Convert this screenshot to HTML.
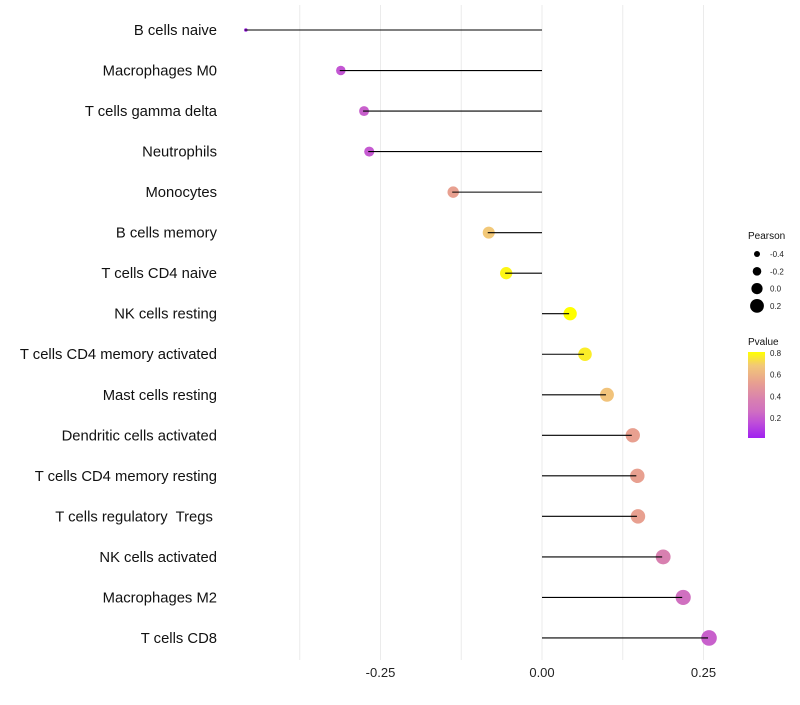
<!DOCTYPE html>
<html><head><meta charset="utf-8"><style>
body{margin:0;background:#fff;font-family:"Liberation Sans",sans-serif;}
</style></head><body>
<svg id="chart" width="800" height="700" xmlns="http://www.w3.org/2000/svg" font-family="Liberation Sans, sans-serif">
<g id="grid"></g><g id="marks"></g><g id="labels"></g><g id="legend"></g>
</svg>
<script>
const categories = ["B cells naive","Macrophages M0","T cells gamma delta","Neutrophils","Monocytes","B cells memory","T cells CD4 naive","NK cells resting","T cells CD4 memory activated","Mast cells resting","Dendritic cells activated","T cells CD4 memory resting","T cells regulatory\u00a0 Tregs\u00a0","NK cells activated","Macrophages M2","T cells CD8"];
const pearson = [-0.46,-0.313,-0.277,-0.269,-0.139,-0.084,-0.057,0.042,0.065,0.099,0.139,0.146,0.147,0.186,0.217,0.257];
const pvalues = [0.08,0.22,0.25,0.23,0.55,0.7,0.8,0.82,0.78,0.68,0.55,0.55,0.55,0.4,0.3,0.25];
const xTicks = [-0.25,0,0.25];
const xTickLabels = ["-0.25","0.00","0.25"];
const minorTicks = [-0.375,-0.125,0.125];
const sizeLegend = [-0.4,-0.2,0.0,0.2];
const sizeLegendLabels = ["-0.4","-0.2","0.0","0.2"];
const colorLegend = [0.2,0.4,0.6,0.8];

const NS="http://www.w3.org/2000/svg";
const x = v => 542 + v*646;
const y = i => 30 + i*40.53;
const r = v => v < -0.31 ? Math.max(1.5, 1.8 + (v+0.46)*20) : 4.8 + 5.3*(v+0.31);
const lr = v => 3 + (v+0.4)*6.5;
const pToY = p => 353 + (0.8-p)*108.5;
const stops=[[0.06,[160,32,240]],[0.2,[192,80,216]],[0.3,[208,112,192]],[0.4,[216,128,176]],[0.55,[232,160,144]],[0.7,[242,200,120]],[0.82,[255,255,0]]];
function col(p){
  p=Math.max(0.06,Math.min(0.82,p));
  for(let i=1;i<stops.length;i++){
    if(p<=stops[i][0]){const [p0,a]=stops[i-1],[p1,b]=stops[i];const t=(p-p0)/(p1-p0);
      return `rgb(${a.map((c,j)=>Math.round(c+(b[j]-c)*t)).join(',')})`;}
  }
  return 'rgb(255,255,0)';
}
function mk(tag,attrs,parent,text){const e=document.createElementNS(NS,tag);for(const k in attrs)e.setAttribute(k,attrs[k]);if(text!==undefined)e.textContent=text;document.getElementById(parent).appendChild(e);return e;}

[...minorTicks,...xTicks].forEach(v=>{
  const l=mk('line',{x1:x(v),x2:x(v),y1:5,y2:660,stroke:'#ebebeb','stroke-width':1},'grid');
  
  
});
xTicks.forEach((v,i)=>{
  const t=mk('text',{x:x(v),y:677,'text-anchor':'middle','font-size':13,fill:'#222'},'labels',xTickLabels[i]);
  
  
});
categories.forEach((c,i)=>{
  const t=mk('text',{x:217,y:y(i)+5,'text-anchor':'end','font-size':14.8,fill:'#111'},'labels',c);
  
  
  const p=mk('circle',{cx:x(pearson[i])+1,cy:y(i),r:r(pearson[i]),fill:col(pvalues[i])},'marks');
  
  
  const l=mk('line',{x1:x(0),x2:x(pearson[i]),y1:y(i),y2:y(i),stroke:'#000','stroke-width':1.1},'marks');
  
  
});
let t=mk('text',{x:748,y:239,'font-size':10,fill:'#111'},'legend','Pearson');


sizeLegend.forEach((v,i)=>{
  const cy=254+i*17.3;
  const c=mk('circle',{cx:757,cy:cy,r:lr(v),fill:'#000'},'legend');
  
  
  const l=mk('text',{x:770,y:cy+3,'font-size':8,fill:'#222'},'legend',sizeLegendLabels[i]);
  
  
});
t=mk('text',{x:748,y:345,'font-size':10,fill:'#111'},'legend','Pvalue');


const defs=mk('defs',{},'legend');
const g=document.createElementNS(NS,'linearGradient');g.setAttribute('id','pg');g.setAttribute('x1','0');g.setAttribute('y1','1');g.setAttribute('x2','0');g.setAttribute('y2','0');defs.appendChild(g);
stops.forEach(([p,c])=>{const s=document.createElementNS(NS,'stop');s.setAttribute('offset',(p-0.06)/0.76);s.setAttribute('stop-color',`rgb(${c.join(',')})`);g.appendChild(s);});
const bar=mk('rect',{x:748,y:352,width:17,height:86,fill:'url(#pg)'},'legend');


colorLegend.forEach(v=>{
  const l=mk('text',{x:770,y:pToY(v)+3,'font-size':8,fill:'#222'},'legend',v.toFixed(1));
  
  
});
</script>
</body></html>
